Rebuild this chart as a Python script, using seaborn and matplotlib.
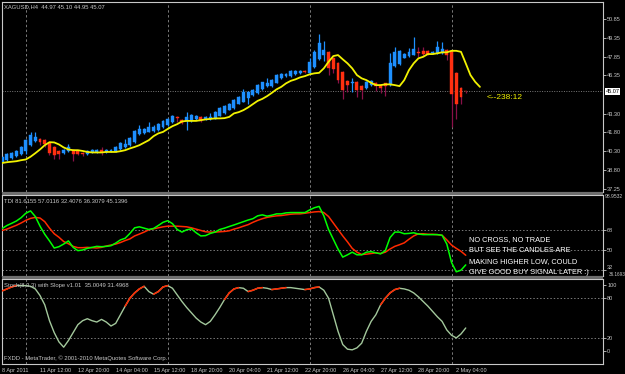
import numpy as np
import pandas as pd
import matplotlib
matplotlib.use("Agg")
import matplotlib.pyplot as plt
import matplotlib.transforms as mtransforms
from matplotlib.patches import Rectangle
import seaborn as sns

# ---------------- data ----------------
opens = [39.44, 39.57, 39.76, 39.89, 40.10, 40.32, 40.77, 41.12, 41.28, 41.17,
         40.96, 40.64, 40.32, 40.16, 40.32, 40.42, 40.32, 40.18, 40.10, 40.21,
         40.24, 40.37, 40.21, 40.29, 40.32, 40.50, 40.64, 40.77, 41.04, 41.70,
         41.75, 41.85, 41.90, 42.00, 42.24, 42.40, 42.66, 43.00, 42.82, 42.72,
         42.72, 42.85, 43.04, 42.85, 42.85, 42.90, 43.14, 43.36, 43.62, 43.78,
         44.10, 44.24, 44.58, 44.77, 44.90, 45.25, 45.49, 45.49, 45.76, 46.15,
         46.27, 46.30, 46.45, 46.52, 46.69, 46.56, 47.04, 47.62, 47.97, 48.24,
         47.70, 47.36, 46.64, 45.89, 45.76, 45.84, 45.52, 45.30, 45.57, 45.70,
         45.57, 45.70, 45.57, 47.12, 47.22, 47.76, 47.89, 48.00, 48.24, 48.29,
         48.29, 48.10, 48.10, 48.10, 48.37, 48.32, 46.50, 45.30, 45.10]
closes = [39.84, 40.05, 40.16, 40.32, 40.64, 41.17, 41.62, 41.44, 41.06, 40.85,
          40.16, 39.97, 40.05, 40.37, 40.64, 40.10, 40.10, 40.05, 40.32, 40.37,
          40.37, 40.21, 40.42, 40.42, 40.64, 40.96, 40.90, 41.38, 41.90, 42.05,
          42.05, 42.20, 42.25, 42.45, 42.72, 42.85, 43.14, 42.92, 42.56, 43.04,
          43.17, 43.12, 42.72, 43.04, 43.04, 43.44, 43.78, 43.89, 44.10, 44.37,
          44.64, 44.98, 45.04, 45.17, 45.60, 45.78, 45.70, 45.97, 46.37, 46.45,
          46.48, 46.70, 46.70, 46.72, 46.58, 47.44, 48.24, 48.90, 48.37, 46.90,
          46.82, 45.97, 45.17, 45.57, 45.84, 45.17, 45.17, 45.84, 45.89, 45.52,
          45.30, 45.49, 47.30, 48.18, 48.32, 48.05, 48.24, 48.42, 48.10, 48.05,
          48.08, 48.24, 48.64, 48.42, 47.97, 44.85, 44.10, 44.64, 45.07]
highs = [39.95, 40.12, 40.22, 40.38, 40.72, 41.25, 41.84, 41.84, 41.35, 41.25,
         41.02, 40.70, 40.40, 40.45, 40.90, 40.50, 40.40, 40.25, 40.38, 40.45,
         40.45, 40.64, 40.50, 40.50, 40.72, 41.05, 41.30, 41.45, 42.00, 42.37,
         42.15, 42.64, 42.35, 42.55, 42.80, 42.95, 43.20, 43.14, 42.90, 43.44,
         43.25, 43.20, 43.10, 43.10, 43.36, 43.50, 43.85, 43.95, 44.18, 44.45,
         44.70, 45.25, 45.10, 45.25, 45.68, 45.85, 46.10, 46.05, 46.45, 46.52,
         46.55, 46.78, 46.78, 46.80, 46.75, 47.70, 48.37, 49.65, 49.12, 48.30,
         47.80, 47.45, 46.70, 45.95, 46.10, 45.90, 45.60, 45.90, 45.95, 45.78,
         45.62, 45.75, 48.10, 48.64, 48.40, 48.12, 48.50, 49.38, 48.64, 48.64,
         48.35, 48.30, 49.12, 49.04, 48.45, 48.40, 46.60, 45.40, 45.12]
lows = [39.38, 39.50, 39.70, 39.84, 40.02, 40.10, 40.70, 41.05, 40.77, 40.60,
        39.97, 39.70, 39.70, 40.05, 40.25, 39.52, 39.95, 39.90, 40.00, 40.15,
        40.18, 39.97, 40.15, 40.22, 40.25, 40.42, 40.55, 40.70, 40.95, 41.62,
        41.70, 41.80, 41.82, 41.90, 42.15, 42.30, 42.55, 42.61, 42.50, 41.97,
        42.65, 42.80, 42.65, 42.80, 42.80, 42.85, 43.10, 43.30, 43.55, 43.70,
        44.05, 44.20, 44.10, 44.70, 44.85, 45.20, 45.42, 45.42, 45.70, 46.05,
        46.20, 46.25, 46.40, 46.45, 46.50, 46.50, 46.95, 47.55, 47.52, 46.37,
        46.50, 45.70, 44.45, 45.04, 45.04, 44.64, 44.45, 45.25, 45.50, 45.09,
        44.96, 44.69, 45.50, 47.05, 47.15, 47.70, 47.82, 47.95, 47.84, 47.89,
        48.00, 48.05, 48.05, 48.05, 47.57, 42.24, 42.90, 44.10, 44.95]

# shifted moving average (yellow), bars 0..101
ma_line = [39.35, 39.41, 39.45, 39.49, 39.57, 39.63, 39.85, 40.13, 40.43, 40.77,
           41.01, 40.99, 40.83, 40.59, 40.43, 40.37, 40.37, 40.31, 40.23, 40.19,
           40.19, 40.19, 40.23, 40.23, 40.23, 40.29, 40.37, 40.51, 40.63, 40.77,
           40.97, 41.17, 41.49, 41.71, 41.83, 42.07, 42.29, 42.45, 42.67, 42.71,
           42.71, 42.71, 42.77, 42.83, 42.87, 42.91, 42.91, 42.93, 43.03, 43.31,
           43.41, 43.57, 43.79, 44.05, 44.31, 44.47, 44.69, 44.95, 45.23, 45.43,
           45.71, 45.91, 46.03, 46.19, 46.29, 46.43, 46.51, 46.55, 46.91, 47.43,
           47.89, 47.97, 47.63, 47.31, 46.91, 46.37, 46.11, 45.97, 45.75, 45.57,
           45.57, 45.63, 45.63, 45.57, 45.49, 45.97, 46.77, 47.31, 47.71, 47.83,
           48.05, 48.05, 48.11, 48.19, 48.19, 48.31, 48.31, 48.23, 47.31, 46.37,
           45.83, 45.43]

tdi_green = [69.5, 72.2, 74.2, 76.3, 79.3, 83.4, 85.5, 80.4, 71.6, 64.2,
             58.2, 51.7, 52.9, 55.3, 58.2, 52.3, 49.3, 49.9, 51.4, 52.3,
             53.2, 52.9, 53.2, 53.8, 56.2, 59.1, 60.6, 65.0, 70.1, 71.0,
             69.8, 68.6, 69.5, 72.2, 75.1, 76.6, 73.9, 68.6, 66.2, 68.3,
             69.2, 65.6, 62.7, 63.0, 65.0, 66.2, 68.6, 69.8, 71.3, 72.7,
             74.2, 75.7, 77.2, 78.4, 81.0, 81.9, 80.7, 81.6, 82.8, 82.8,
             83.7, 84.0, 84.0, 84.0, 84.0, 86.4, 88.4, 89.6, 81.0, 68.6,
             59.7, 50.8, 43.4, 45.5, 47.9, 45.5, 45.5, 47.9, 48.4, 47.3,
             46.4, 49.3, 61.2, 66.2, 66.2, 64.7, 65.0, 65.6, 64.4, 63.9,
             63.9, 63.9, 63.9, 63.3, 55.3, 38.5, 30.0, 31.5, 36.3]
tdi_red = [67.7, 68.9, 70.7, 72.4, 74.5, 76.9, 78.7, 79.6, 79.0, 75.7,
           69.8, 64.7, 61.5, 57.6, 55.6, 53.2, 52.0, 52.0, 52.3, 52.0,
           51.7, 52.3, 53.5, 54.4, 55.3, 56.7, 58.5, 60.0, 62.7, 64.4,
           66.2, 68.3, 69.2, 70.1, 71.0, 71.6, 71.6, 71.6, 71.3, 71.0,
           70.1, 68.9, 67.7, 66.5, 66.2, 66.2, 66.5, 66.8, 67.4, 68.9,
           70.1, 71.6, 73.0, 75.1, 76.9, 78.4, 79.6, 80.4, 81.0, 81.3,
           81.9, 82.5, 82.8, 82.8, 83.4, 84.0, 84.6, 84.9, 84.0, 80.4,
           74.5, 68.6, 62.7, 57.3, 51.4, 47.9, 45.8, 46.1, 46.7, 47.3,
           46.7, 47.9, 50.8, 53.2, 54.7, 56.4, 59.7, 62.7, 64.7, 64.7,
           64.2, 64.2, 63.9, 63.3, 59.1, 54.4, 51.4, 48.7, 45.1]

stoch = [91, 94, 97, 99, 99, 99, 98, 94, 84, 70,
         46, 28, 14, 6, 16, 28, 40, 46, 49, 46,
         44, 48, 44, 38, 42, 55, 68, 80, 88, 94,
         98, 90, 86, 90, 97, 99, 95, 85, 75, 66,
         58, 50, 44, 40, 45, 55, 66, 78, 88, 94,
         96, 95, 90, 92, 95, 96, 95, 93, 94, 95,
         96, 96, 95, 94, 93, 94, 96, 97, 92, 80,
         55, 30, 10, 3, 2, 5, 12, 30, 45, 55,
         70, 80, 88, 93, 95, 94, 92, 88, 82, 75,
         68, 60, 52, 45, 32, 24, 20, 26, 35]

week_starts = [5, 35, 65, 95]
time_labels = ["8 Apr 2011", "11 Apr 12:00", "12 Apr 20:00", "14 Apr 04:00",
               "15 Apr 12:00", "18 Apr 20:00", "20 Apr 04:00", "21 Apr 12:00",
               "22 Apr 20:00", "26 Apr 04:00", "27 Apr 12:00", "28 Apr 20:00",
               "2 May 04:00"]
price_ticks = [50.85, 49.35, 47.85, 46.35, 43.30, 41.80, 40.30, 38.80, 37.25]
last_price = 45.07
tdi_levels = [68, 50, 32]
stoch_levels = [80, 20]

# ---------------- style ----------------
sns.set_theme(style="dark")
plt.rcParams["font.family"] = ["Liberation Sans", "DejaVu Sans"]
BG = "#000000"
FG = "#c8c8c8"
GRID = "#7a7a7a"

W, H = 625, 374
fig = plt.figure(figsize=(W / 100, H / 100), dpi=100, facecolor=BG)


def rect(l, t, r, b):
    return [l / W, 1 - b / H, (r - l) / W, (b - t) / H]


ax1 = fig.add_axes(rect(2, 2, 603, 192))
ax2 = fig.add_axes(rect(2, 195, 603, 276))
ax3 = fig.add_axes(rect(2, 279, 603, 364))

# separators between panels
for t, b in [(192, 195), (276, 279)]:
    fig.patches.append(Rectangle((2 / W, 1 - b / H), 601 / W, (b - t) / H,
                                 transform=fig.transFigure, facecolor="#6e6e6e",
                                 edgecolor="none"))

XMIN, XMAX = -0.04, 127.02
for ax in (ax1, ax2, ax3):
    ax.set_facecolor(BG)
    ax.set_xlim(XMIN, XMAX)
    for s in ax.spines.values():
        s.set_color(FG)
        s.set_linewidth(0.8)
    ax.grid(False)
    ax.yaxis.tick_right()
    ax.tick_params(axis="y", colors=FG, labelsize=4, length=2, width=0.6, pad=1)
    ax.tick_params(axis="x", length=0)
    ax.set_xticks([])
    for w in week_starts:
        ax.axvline(w, color=GRID, lw=0.7, ls=(0, (2.5, 2.5)), zorder=1)
    ax.set_xlabel("")
    ax.set_ylabel("")

# ---------------- main panel: candles ----------------
n = len(closes)
df = pd.DataFrame({"bar": np.arange(n), "open": opens, "close": closes,
                   "high": highs, "low": lows})
up = df["close"] >= df["open"]
body_col = np.where(up, "#1e90ff", "#ff3010")
wick_col = np.where(up, "#1e90ff", "#8a1048")
ax1.vlines(df["bar"], df["low"], df["high"], colors=wick_col, lw=0.9, zorder=2)
body_bot = np.minimum(df["open"], df["close"])
body_h = np.maximum((df["close"] - df["open"]).abs(), 0.04)
ax1.bar(df["bar"], body_h, bottom=body_bot, width=0.62, color=body_col,
        edgecolor=body_col, linewidth=0.3, zorder=3)

ma_df = pd.DataFrame({"bar": np.arange(len(ma_line)), "ma": ma_line})
sns.lineplot(data=ma_df, x="bar", y="ma", ax=ax1, color="#f2f200", lw=1.3,
             zorder=4)
ax1.axhline(last_price, color=GRID, lw=0.7, ls=(0, (1, 1.5)), zorder=1)
ax1.set_ylim(37.03, 52.21)
ax1.set_yticks(price_ticks)
ax1.set_yticklabels([f"{v:.2f}" for v in price_ticks])
ax1.set_xlim(XMIN, XMAX)
ax1.set_xlabel("")
ax1.set_ylabel("")
trans1 = mtransforms.blended_transform_factory(ax1.transAxes, ax1.transData)
ax1.text(1.004, last_price, f"{last_price:.2f}", transform=trans1, fontsize=4,
         color="black", va="center", ha="left",
         bbox=dict(boxstyle="square,pad=0.15", fc="white", ec="none"))
ax1.text(0.807, last_price - 0.5, "<--238:12", transform=trans1,
         fontsize=6, color="#f2f200", va="center", ha="left")

# ---------------- TDI panel ----------------
tdi_df = pd.DataFrame({"bar": np.arange(n), "green": tdi_green, "red": tdi_red})
for lv in tdi_levels:
    ax2.axhline(lv, color=GRID, lw=0.7, ls=(0, (1.5, 2)), zorder=1)
sns.lineplot(data=tdi_df, x="bar", y="red", ax=ax2, color="#ff2a00", lw=1.1,
             zorder=3)
sns.lineplot(data=tdi_df, x="bar", y="green", ax=ax2, color="#00ff00", lw=1.1,
             zorder=4)
ax2.set_ylim(26.2, 100)
ax2.set_yticks(tdi_levels)
ax2.set_yticklabels([str(v) for v in tdi_levels])
ax2.tick_params(axis="y", pad=1)
for lab in ax2.get_yticklabels():
    if lab.get_text() == "32":
        lab.set_va("bottom")
ax2.set_xlim(XMIN, XMAX)
ax2.set_xticks([])
ax2.set_xlabel("")
ax2.set_ylabel("")
fig.text(605 / W, 1 - 196 / H, "98.9532", fontsize=3.6, color=FG,
         va="center", ha="left")
fig.text(609 / W, 1 - 274 / H, "36.1693", fontsize=3.3, color=FG,
         va="center", ha="left")
note = ["NO CROSS, NO TRADE", "BUT SEE THE CANDLES ARE",
        "MAKING HIGHER LOW, COULD", "GIVE GOOD BUY SIGNAL LATER :)"]
for k, line in enumerate(note):
    fig.text(469 / W, 1 - (240 + 10.9 * k) / H, line, fontsize=5.3,
             color="white", va="center", ha="left")

# ---------------- Stochastic panel ----------------
st_df = pd.DataFrame({"bar": np.arange(n), "stoch": stoch})
for lv in stoch_levels:
    ax3.axhline(lv, color=GRID, lw=0.7, ls=(0, (1.5, 2)), zorder=1)
sns.lineplot(data=st_df, x="bar", y="stoch", ax=ax3, color="#a3c89c", lw=1.0,
             zorder=3)
sv = np.asarray(stoch, dtype=float)
for i in range(n - 1):
    if sv[i + 1] > sv[i] and sv[i + 1] >= 80:
        ax3.plot([i, i + 1], [sv[i], sv[i + 1]], color="#ff2a00", lw=1.1,
                 zorder=4)
ax3.set_ylim(-19.4, 109)
ax3.set_yticks([100, 80, 20, 0])
ax3.set_yticklabels(["100", "80", "20", "0"])
ax3.set_xlim(XMIN, XMAX)
tick_bars = np.arange(len(time_labels)) * 8
ax3.set_xticks(tick_bars)
ax3.set_xticklabels(time_labels, ha="left")
ax3.tick_params(axis="x", colors=FG, labelsize=4, length=2, width=0.6,
                direction="out", pad=1)
ax3.set_xlabel("")
ax3.set_ylabel("")

# ---------------- header texts ----------------
fig.text(4 / W, 1 - 7 / H, "XAGUSD,H4  44.97 45.10 44.95 45.07", fontsize=4.2,
         color=FG, va="center", ha="left")
fig.text(4 / W, 1 - 201 / H, "TDI 81.6155 57.0116 32.4076 36.3079 45.1396",
         fontsize=4.2, color=FG, va="center", ha="left")
fig.text(4 / W, 1 - 285 / H, "Stoch(8,3,3) with Slope v1.01  35.0049 31.4968",
         fontsize=4.2, color=FG, va="center", ha="left")
fig.text(4 / W, 1 - 358 / H,
         "FXDD - MetaTrader, \u00a9 2001-2010 MetaQuotes Software Corp.",
         fontsize=4.2, color=FG, va="center", ha="left")

fig.savefig("out.png", dpi=100, facecolor=BG)
